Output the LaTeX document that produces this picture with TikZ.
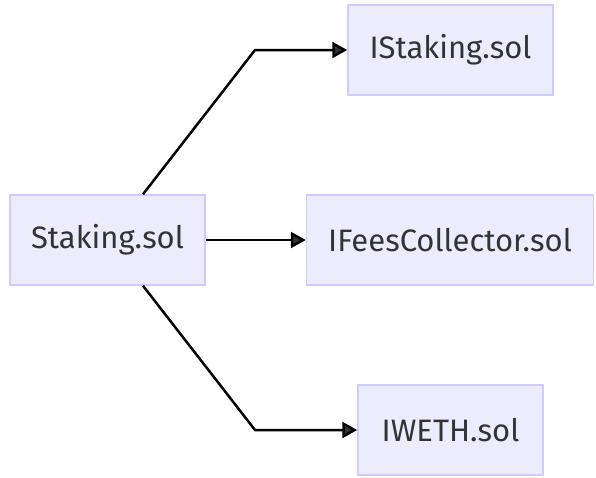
\documentclass[tikz,border=0pt]{standalone}
\usepackage{fontspec}
\setmainfont{Fira Sans}
\usetikzlibrary{arrows.meta}
\usetikzlibrary{positioning}
\definecolor{fg}{HTML}{333333}
\definecolor{boxfill}{HTML}{ECECFF}
\definecolor{boxline}{HTML}{CCCCFF}
\tikzstyle{box}=[draw=boxline, fill=boxfill, line width=1.5pt, inner sep=0pt,
minimum height=90pt, anchor=center, text=fg, font=\fontsize{31}{36}\selectfont]
\tikzstyle{myarrow}=[-{Triangle[length=15pt, width=16pt, fill=fg]}, line width=2.5pt]

\begin{document}
\begin{tikzpicture}[x=1pt, y=-1pt]
    \useasboundingbox (0,0) rectangle (596,477);

    \node[box, minimum width=195pt] (staking) at (107.5,240) {Staking.sol};

    \node[box, minimum width=205pt] (istaking) at (450.5,50) {IStaking.sol};
    \coordinate (bendup) at (255,50);
    \draw[myarrow] ([xshift=35.5pt]staking.north) -- (bendup) -- (istaking.west);

    \node[box, minimum width=287pt, right=100pt of staking] (fees) {IFeesCollector.sol};
    \draw[myarrow] (staking) -- (fees);

    \node[box, minimum width=185pt] (iweth) at (450.5,430) {IWETH.sol};
    \coordinate (benddown) at (255,430);
    \draw[myarrow] ([xshift=35.5pt]staking.south) -- (benddown) -- (iweth.west);
\end{tikzpicture}
\end{document}
